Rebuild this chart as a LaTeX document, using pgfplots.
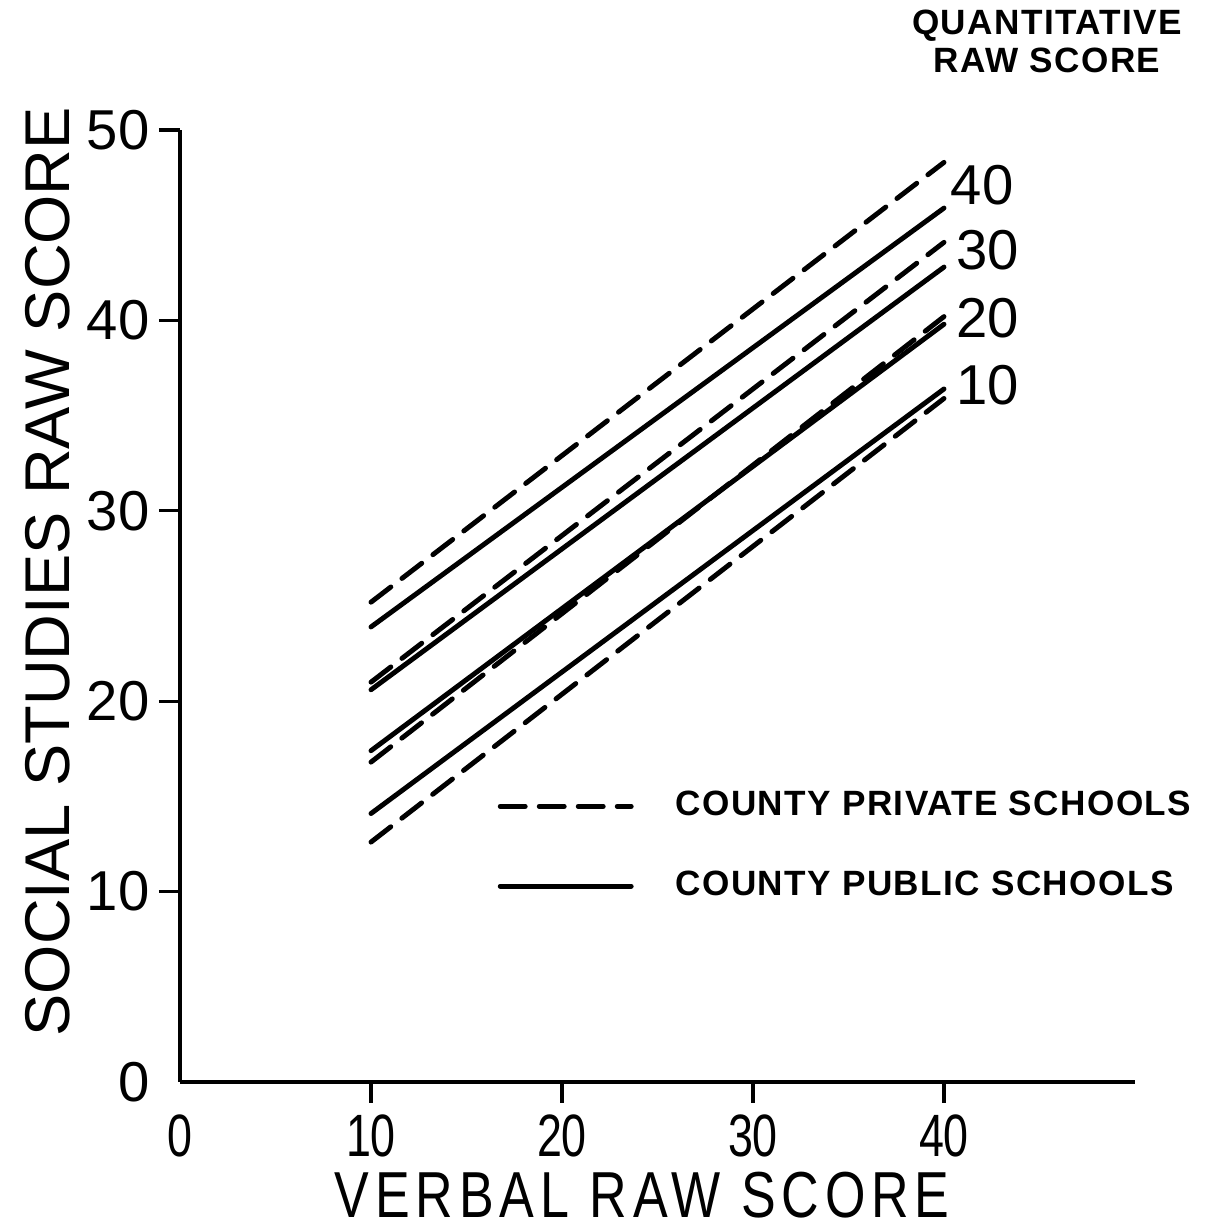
\documentclass[border=0pt]{standalone}
\usepackage{pgfplots}
\pgfplotsset{compat=1.18}
\usepackage{fontspec}
\setmainfont{Liberation Sans}
\newfontfamily\narrowfont{Liberation Sans}[FakeStretch=0.75]
\newfontfamily\narrowspaced{Liberation Sans}[FakeStretch=0.8, LetterSpace=9]
\newfontfamily\spacedfont{Liberation Sans}[LetterSpace=4]
\begin{document}
\begin{tikzpicture}
\useasboundingbox (0,0) rectangle (121.7mm,122.6mm);
\begin{axis}[
  at={(18mm,14.4mm)}, anchor=south west,
  scale only axis, width=95.5mm, height=95.2mm,
  xmin=0, xmax=50, ymin=0, ymax=50,
  axis lines=left, axis line style={line width=1.1pt, -},
  clip=false,
  xtick={0,10,20,30,40}, ytick={0,10,20,30,40,50},
  major tick length=0pt,
  extra x ticks={10,20,30,40}, extra y ticks={10,20,30,40,50},
  extra x tick labels={}, extra y tick labels={},
  extra tick style={major tick length=2.1mm, tick align=outside, tick style={line width=0.9pt, black}},
  /pgf/number format/assume math mode=true,
  xticklabel style={font=\narrowfont\fontsize{17}{17}\selectfont, anchor=north, inner sep=0pt, yshift=-3.25mm},
  yticklabel style={font=\fontsize{16}{16}\selectfont, anchor=east, inner sep=0pt, xshift=-3.0mm},
  xlabel={VERBAL RAW SCORE},
  ylabel={SOCIAL STUDIES RAW SCORE},
  every axis x label/.style={at={(axis description cs:0.484,-0.119)}, anchor=center, inner sep=0pt, font=\narrowspaced\fontsize{18.5}{18.5}\selectfont},
  every axis y label/.style={at={(axis description cs:-0.1386,0.536)}, anchor=center, rotate=90, font=\fontsize{18}{18}\selectfont},
  title={QUANTITATIVE\\RAW SCORE},
  title style={at={(axis description cs:0.908,1.071)}, anchor=center, align=center, font=\spacedfont\bfseries\fontsize{10}{11}\selectfont},
  legend style={at={(axis cs:16.6,15.3)}, anchor=north west, draw=none, fill=none, inner sep=0pt,
    row sep=5.0mm, font=\spacedfont\bfseries\fontsize{10}{10}\selectfont,
    nodes={inner sep=0pt},
    /tikz/every odd column/.style={column sep=4.2mm}},
  legend cell align=left,
  legend image code/.code={\draw[#1] (0mm,0mm) -- (13.1mm,0mm);},
  every axis plot/.append style={line width=1.4pt, line cap=round},
]
\addlegendimage{black, line width=1.4pt, dash pattern=on 2.5mm off 1.4mm}
\addlegendentry{COUNTY PRIVATE SCHOOLS}
\addlegendimage{black, line width=1.4pt}
\addlegendentry{COUNTY PUBLIC SCHOOLS}
% County private schools (dashed)
\addplot[black, dash pattern=on 2.5mm off 1.4mm, forget plot] coordinates {(10,25.2) (40,48.3)};
\addplot[black, dash pattern=on 2.5mm off 1.4mm, forget plot] coordinates {(10,21.0) (40,44.1)};
\addplot[black, dash pattern=on 2.5mm off 1.4mm, forget plot] coordinates {(10,16.8) (40,40.2)};
\addplot[black, dash pattern=on 2.5mm off 1.4mm, forget plot] coordinates {(10,12.6) (40,35.9)};
% County public schools (solid)
\addplot[black, forget plot] coordinates {(10,23.9) (40,45.9)};
\addplot[black, forget plot] coordinates {(10,20.6) (40,42.8)};
\addplot[black, forget plot] coordinates {(10,17.4) (40,39.8)};
\addplot[black, forget plot] coordinates {(10,14.1) (40,36.4)};
% quantitative score labels
\node[font=\fontsize{16}{16}\selectfont] at (axis cs:42.0,47.1) {40};
\node[font=\fontsize{16}{16}\selectfont] at (axis cs:42.3,43.7) {30};
\node[font=\fontsize{16}{16}\selectfont] at (axis cs:42.3,40.1) {20};
\node[font=\fontsize{16}{16}\selectfont] at (axis cs:42.3,36.6) {10};
\end{axis}
\end{tikzpicture}
\end{document}
